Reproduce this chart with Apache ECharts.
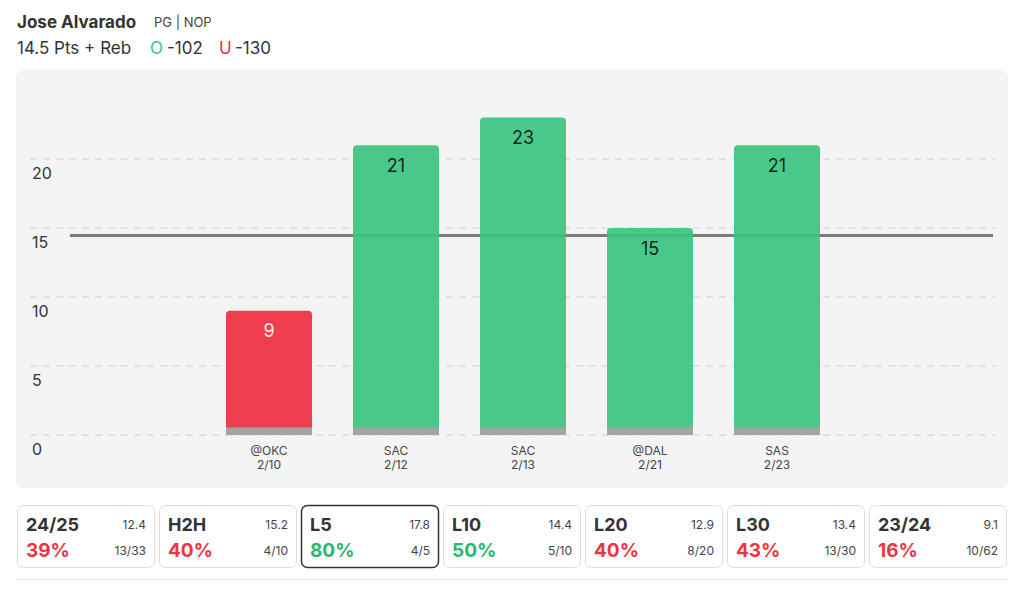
<!DOCTYPE html>
<html><head><meta charset="utf-8">
<script src="https://cdn.jsdelivr.net/npm/echarts@6/dist/echarts.min.js"></script>
<style>html,body{margin:0;padding:0;background:#fff;}#c{width:1024px;height:589px;}</style>
</head><body><div id="c"></div>
<script>
// ---- data ----
const player = 'Jose Alvarado';
const playerInfo = 'PG | NOP';
const propLine = 14.5;
const propLabel = '14.5 Pts + Reb';
const overOdds = '-102';
const underOdds = '-130';
const opponents = ['@OKC', 'SAC', 'SAC', '@DAL', 'SAS'];
const dates = ['2/10', '2/12', '2/13', '2/21', '2/23'];
const values = [9, 21, 23, 15, 21];
const yTicks = [0, 5, 10, 15, 20];
const boxTitles = ['24/25', 'H2H', 'L5', 'L10', 'L20', 'L30', '23/24'];
const boxAvgs = ['12.4', '15.2', '17.8', '14.4', '12.9', '13.4', '9.1'];
const boxPcts = [39, 40, 80, 50, 40, 43, 16];
const boxFracs = ['13/33', '4/10', '4/5', '5/10', '8/20', '13/30', '10/62'];
const selectedBox = 'L5';

// ---- styles ----
const FONT = 'Inter, "Noto Sans", sans-serif';
const GREEN = '#38c47f', RED = '#ee2e3e';
const GREEN_T = '#27b872', RED_T = '#ef3340';
const categories = opponents.map((o, i) => o + '\n' + dates[i]);

const graphics = [
  { type: 'rect', z: -10, shape: { x: 16, y: 70, width: 992, height: 418, r: 8 }, style: { fill: '#f4f4f4' } },
  { type: 'text', left: 17, top: 13, style: { text: player, font: 'bold 17px ' + FONT, fill: '#333' } },
  { type: 'text', left: 154, top: 15, style: { text: playerInfo, font: '13px ' + FONT, fill: '#444' } },
  { type: 'text', left: 17, top: 39, style: { text: propLabel, font: '17px ' + FONT, fill: '#333' } },
  { type: 'text', left: 150, top: 39, style: { text: 'O', font: '17px ' + FONT, fill: '#3cc57f' } },
  { type: 'text', left: 167, top: 39, style: { text: overOdds, font: '17px ' + FONT, fill: '#333' } },
  { type: 'text', left: 219, top: 39, style: { text: 'U', font: '17px ' + FONT, fill: RED } },
  { type: 'text', left: 235, top: 39, style: { text: underOdds, font: '17px ' + FONT, fill: '#333' } },
  { type: 'rect', shape: { x: 17, y: 579, width: 990, height: 1 }, style: { fill: '#e4e4e4' } }
];
boxTitles.forEach((t, i) => {
  const x = 17 + 142 * i, y = 505, w = 137, h = 62;
  const sel = t === selectedBox;
  const pctColor = boxPcts[i] >= 50 ? GREEN_T : RED_T;
  graphics.push(
    { type: 'rect', shape: { x: x + 0.5, y: y + 0.5, width: w, height: h, r: 6 },
      style: { fill: '#fff', stroke: sel ? '#333' : '#dcdcdc', lineWidth: sel ? 1.5 : 1 } },
    { type: 'text', x: x + 9, y: y + 19, style: { text: t, font: 'bold 18px ' + FONT, fill: '#333', verticalAlign: 'middle', align: 'left' } },
    { type: 'text', x: x + w - 8, y: y + 19, style: { text: boxAvgs[i], font: '12px ' + FONT, fill: '#444', verticalAlign: 'middle', align: 'right' } },
    { type: 'text', x: x + 9, y: y + 45, style: { text: boxPcts[i] + '%', font: 'bold 19px ' + FONT, fill: pctColor, verticalAlign: 'middle', align: 'left' } },
    { type: 'text', x: x + w - 8, y: y + 45, style: { text: boxFracs[i], font: '12px ' + FONT, fill: '#444', verticalAlign: 'middle', align: 'right' } }
  );
});

const chart = echarts.init(document.getElementById('c'), null, { renderer: 'svg' });
chart.setOption({
  animation: false,
  backgroundColor: '#fff',
  textStyle: { fontFamily: FONT },
  graphic: graphics,
  grid: [
    { left: 205.5, right: 183.5, top: 90, bottom: 154 },
    { left: 30, right: 29, top: 159, bottom: 154 }
  ],
  xAxis: [
    { type: 'category', gridIndex: 0, data: categories,
      axisLine: { show: false }, axisTick: { show: false },
      axisLabel: { margin: 8, fontSize: 12, lineHeight: 14, color: '#444', fontFamily: FONT } },
    { type: 'value', gridIndex: 1, min: 0, max: 965, show: false }
  ],
  yAxis: [
    { type: 'value', gridIndex: 0, min: 0, max: 25, show: false },
    { type: 'value', gridIndex: 1, min: 0, max: 20, interval: 5,
      axisLine: { show: false }, axisTick: { show: false },
      splitLine: { lineStyle: { color: '#dcdcdc', width: 1.5, type: [7, 6] } },
      axisLabel: { inside: true, margin: 2, verticalAlign: 'top', padding: [6, 0, 0, 0],
        fontSize: 16, color: '#333', fontFamily: FONT } }
  ],
  series: [
    { type: 'line', xAxisIndex: 1, yAxisIndex: 1, data: [], z: 1, silent: true,
      markLine: { z: 1, symbol: 'none', silent: true, label: { show: false },
        lineStyle: { color: '#7a7a7a', width: 3, type: 'solid' },
        data: [[{ xAxis: 40, yAxis: propLine }, { xAxis: 963, yAxis: propLine }]] } },
    { type: 'bar', xAxisIndex: 0, yAxisIndex: 0, barWidth: 86, z: 3,
      data: values.map(v => ({ value: v,
        itemStyle: { color: v > propLine ? GREEN : RED },
        label: { color: v > propLine ? '#111' : '#fff' } })),
      itemStyle: { borderRadius: [4, 4, 0, 0], opacity: 0.92 },
      label: { show: true, position: 'insideTop', distance: 11, fontSize: 18, fontFamily: FONT } },
    { type: 'bar', xAxisIndex: 0, yAxisIndex: 0, barWidth: 86, barGap: '-100%', z: 4, silent: true,
      data: values.map(() => 0.55), itemStyle: { color: '#a4a4a4' } }
  ]
});
</script></body></html>
